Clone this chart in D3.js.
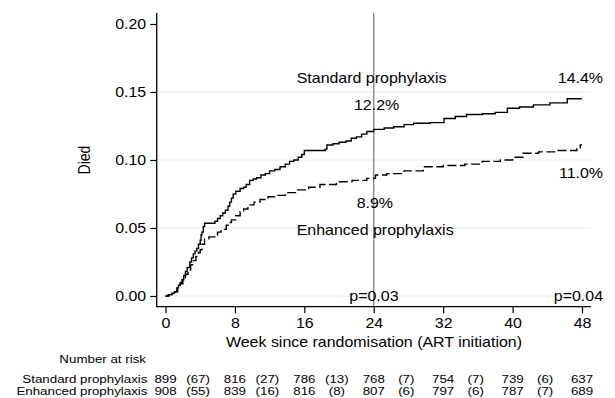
<!DOCTYPE html>
<html><head><meta charset="utf-8">
<script src="https://cdn.jsdelivr.net/npm/d3@7"></script>
<style>
html,body{margin:0;padding:0;background:#fff;}
svg text{font-family:"Liberation Sans",Arial,Helvetica,sans-serif;fill:#000;}
</style></head>
<body><svg id="c" width="615" height="398"></svg>
<script>
// ---- data ----
const weekTicks = [0, 8, 16, 24, 32, 40, 48];
const yTicks = [0, 0.05, 0.10, 0.15, 0.20];
const gridValues = [0, 0.05, 0.10, 0.15];
const standardSteps = [
 [0,0],[0.3,0.001],[0.7,0.002],[1.0,0.003],[1.3,0.006],[1.5,0.008],[1.7,0.010],[1.9,0.012],[2.1,0.015],[2.3,0.018],
 [2.5,0.021],[2.8,0.025],[3.0,0.028],[3.2,0.031],[3.4,0.033],[3.6,0.035],[3.8,0.038],[4.0,0.041],[4.1,0.045],[4.2,0.047],
 [4.35,0.051],[4.5,0.0535],[5.7,0.055],[6.0,0.057],[6.3,0.059],[6.6,0.061],[6.9,0.063],[7.2,0.066],[7.4,0.069],[7.6,0.072],
 [7.8,0.075],[8.1,0.077],[8.6,0.079],[9.0,0.080],[9.3,0.082],[9.7,0.085],[10.1,0.086],[10.5,0.087],[11.0,0.089],[11.5,0.090],
 [12.0,0.092],[12.6,0.093],[13.2,0.095],[13.8,0.097],[14.3,0.099],[14.8,0.100],[15.3,0.102],[15.7,0.104],[16.0,0.107],[18.4,0.108],
 [18.6,0.111],[19.3,0.112],[20.0,0.113],[20.8,0.114],[21.4,0.116],[22.0,0.117],[22.6,0.119],[23.2,0.121],[24.0,0.1225],[25.2,0.1235],
 [26.3,0.1245],[27.5,0.126],[28.6,0.127],[30.5,0.1275],[32.1,0.1305],[33.4,0.132],[34.7,0.1335],[36.5,0.134],[38.0,0.135],[39.4,0.138],
 [40.8,0.139],[42.4,0.1405],[44.3,0.142],[46.3,0.145],[48,0.145]
];
const enhancedSteps = [
 [0,0],[0.4,0.001],[0.8,0.002],[1.1,0.003],[1.4,0.006],[1.7,0.009],[2.0,0.012],[2.3,0.016],[2.6,0.019],[2.9,0.023],
 [3.2,0.026],[3.5,0.029],[3.8,0.032],[4.0,0.034],[4.2,0.038],[4.5,0.042],[5.0,0.0435],[5.7,0.045],[6.0,0.047],[6.4,0.049],
 [7.0,0.052],[7.3,0.054],[7.6,0.056],[8.1,0.059],[8.6,0.062],[9.0,0.064],[9.5,0.067],[10.2,0.069],[10.9,0.071],[11.8,0.073],
 [12.8,0.074],[13.8,0.076],[15.1,0.078],[16.5,0.080],[17.8,0.082],[19.7,0.084],[21.5,0.085],[23.2,0.0865],[24.2,0.089],[25.5,0.090],
 [27.5,0.092],[29.7,0.095],[32,0.096],[34.5,0.097],[36.5,0.099],[38.6,0.100],[40,0.102],[41.2,0.105],[43,0.106],[45,0.107],
 [47.4,0.109],[47.8,0.111],[48,0.111]
];
const riskLabels = ["Standard prophylaxis", "Enhanced prophylaxis"];
const standardAtRisk = [899, 816, 786, 768, 754, 739, 637];
const standardEvents = [67, 27, 13, 7, 7, 6];
const enhancedAtRisk = [908, 839, 816, 807, 797, 787, 689];
const enhancedEvents = [55, 16, 8, 6, 6, 7];
const landmarkWeek = 24;

// ---- drawing ----
const SX = 1.14; // horizontal text stretch seen in the reference
const svg = d3.select("#c");
const x = d3.scaleLinear().domain([0, 48]).range([165.5, 582]);
const y = d3.scaleLinear().domain([0, 0.2]).range([296, 24]);
const plotL = 156.7, plotR = 591, plotT = 13, plotB = 306.7;

function txt(px, py, s, anchor, size, extra) {
  return svg.append("text")
    .attr("transform", `translate(${px},${py}) scale(${SX},1)` + (extra || ""))
    .attr("text-anchor", anchor).attr("font-size", size).text(s);
}

// grid
svg.append("g").selectAll("line").data(gridValues).join("line")
  .attr("x1", plotL).attr("x2", plotR)
  .attr("y1", d => y(d)).attr("y2", d => y(d))
  .attr("stroke", "#e3edf0").attr("stroke-width", 1);

// landmark line
svg.append("line").attr("x1", x(landmarkWeek)).attr("x2", x(landmarkWeek))
  .attr("y1", plotT).attr("y2", plotB).attr("stroke", "#808080").attr("stroke-width", 1.3);

// curves
const line = d3.line().x(d => x(d[0])).y(d => y(d[1])).curve(d3.curveStepAfter);
svg.append("path").datum(standardSteps).attr("d", line)
  .attr("fill", "none").attr("stroke", "#000").attr("stroke-width", 1.4);
svg.append("path").datum(enhancedSteps).attr("d", line)
  .attr("fill", "none").attr("stroke", "#000").attr("stroke-width", 1.4)
  .attr("stroke-dasharray", "9,3.5");

// axes
const yAxis = svg.append("g").attr("transform", `translate(${plotL},0)`)
  .call(d3.axisLeft(y).tickValues(yTicks).tickFormat(d3.format(".2f")).tickSize(6.5).tickPadding(4));
yAxis.select(".domain").remove();
yAxis.selectAll("text").attr("font-size", 14).attr("font-family", null)
  .attr("x", -10.5 / SX).attr("transform", `scale(${SX},1)`);
yAxis.selectAll("line").attr("stroke-width", 1.2);

const xAxis = svg.append("g").attr("transform", `translate(0,${plotB})`)
  .call(d3.axisBottom(x).tickValues(weekTicks).tickSize(6.5).tickPadding(5));
xAxis.select(".domain").remove();
xAxis.selectAll("text").attr("font-size", 14).attr("font-family", null)
  .attr("transform", `scale(${SX},1)`);
xAxis.selectAll("line").attr("stroke-width", 1.2);

svg.append("path").attr("d", `M${plotL},${plotT}V${plotB}H${plotR}`)
  .attr("fill", "none").attr("stroke", "#000").attr("stroke-width", 1.3);

// axis titles
txt(90, 160, "Died", "middle", 14, " rotate(-90)");
txt(374, 347, "Week since randomisation (ART initiation)", "middle", 14);

// annotations
txt(296.7, 83.3, "Standard prophylaxis", "start", 14);
txt(603, 83.3, "14.4%", "end", 14);
txt(354, 110, "12.2%", "start", 14);
txt(603, 178.3, "11.0%", "end", 14);
txt(356.7, 208.3, "8.9%", "start", 14);
txt(296.7, 235, "Enhanced prophylaxis", "start", 14);
txt(349.3, 301, "p=0.03", "start", 14);
txt(603, 301, "p=0.04", "end", 14);

// number at risk table
const TS = 11.7;
txt(146, 363.3, "Number at risk", "end", TS);
const rows = [[standardAtRisk, standardEvents], [enhancedAtRisk, enhancedEvents]];
const rowY = [382.7, 395];
rows.forEach((r, i) => {
  txt(147.5, rowY[i], riskLabels[i], "end", TS);
  r[0].forEach((v, j) => txt(x(weekTicks[j]), rowY[i], String(v), "middle", TS));
  r[1].forEach((v, j) => txt(x((weekTicks[j] + weekTicks[j + 1]) / 2 - 0.25), rowY[i], `(${v})`, "middle", TS));
});
</script></body></html>
